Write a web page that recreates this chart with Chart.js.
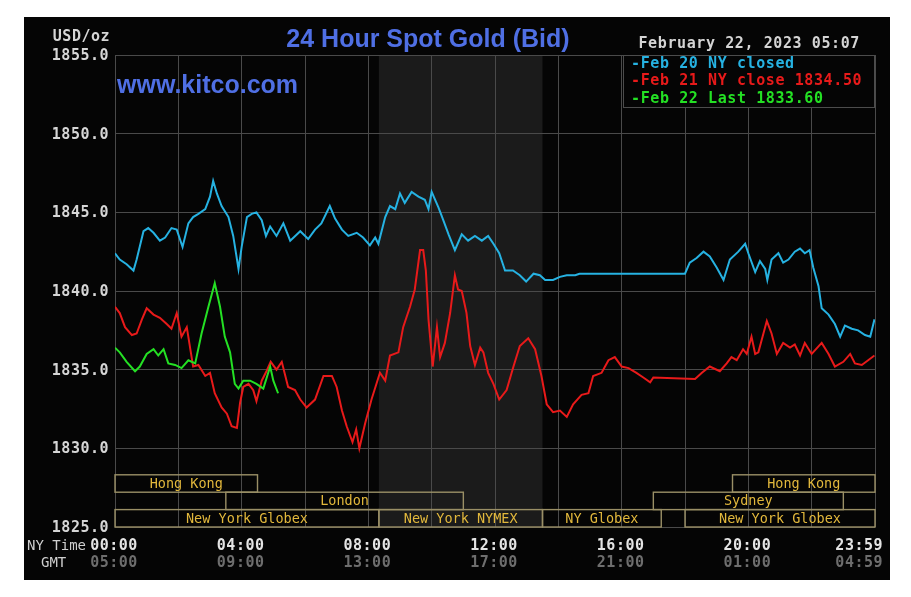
<!DOCTYPE html>
<html>
<head>
<meta charset="utf-8">
<title>24 Hour Spot Gold (Bid)</title>
<script src="https://cdn.jsdelivr.net/npm/chart.js@4/dist/chart.umd.min.js"></script>
<style>
  html, body { margin: 0; padding: 0; background: #fff; }
  #wrap { width: 911px; height: 597px; }
</style>
</head>
<body>
<div id="wrap"><canvas id="gold" width="911" height="597"></canvas></div>
<script>
// minutes after 00:00 NY time, price in USD/oz
const feb20Times = [0, 9, 22, 35, 41, 54, 63, 73, 85, 95, 107, 117, 128, 139, 148, 158, 171, 180, 186, 193,
  202, 215, 224, 234, 240, 250, 259, 268, 278, 286, 294, 306, 319, 332, 351, 366, 379, 391, 407, 417,
  430, 442, 458, 470, 483, 493, 499, 512, 521, 531, 540, 549, 562, 575, 587, 594, 600, 613, 622, 632,
  644, 657, 669, 682, 695, 707, 717, 728, 739, 754, 767, 779, 793, 805, 815, 830, 843, 856, 872, 880,
  1080, 1089, 1102, 1115, 1127, 1140, 1153, 1165, 1181, 1194, 1200, 1213, 1222, 1232, 1236, 1244, 1257, 1266, 1276, 1288,
  1298, 1307, 1316, 1323, 1333, 1339, 1352, 1364, 1374, 1383, 1396, 1408, 1421, 1431, 1439];
const feb20Prices = [1842.4, 1842.0, 1841.7, 1841.3, 1842.0, 1843.8, 1844.0, 1843.7, 1843.2, 1843.4, 1844.0, 1843.9, 1842.8, 1844.3, 1844.7, 1844.9, 1845.2, 1846.0, 1847.0, 1846.2,
  1845.4, 1844.7, 1843.5, 1841.4, 1842.8, 1844.7, 1844.9, 1845.0, 1844.5, 1843.5, 1844.1, 1843.5, 1844.3, 1843.2, 1843.8, 1843.3, 1843.9, 1844.3, 1845.4, 1844.6,
  1843.9, 1843.5, 1843.7, 1843.4, 1842.9, 1843.4, 1843.0, 1844.7, 1845.4, 1845.2, 1846.2, 1845.6, 1846.3, 1846.0, 1845.8, 1845.2, 1846.3, 1845.3, 1844.5, 1843.6,
  1842.6, 1843.6, 1843.2, 1843.5, 1843.2, 1843.5, 1843.0, 1842.4, 1841.3, 1841.3, 1841.0, 1840.6, 1841.1, 1841.0, 1840.7, 1840.7, 1840.9, 1841.0, 1841.0, 1841.1,
  1841.1, 1841.8, 1842.1, 1842.5, 1842.2, 1841.5, 1840.7, 1842.0, 1842.5, 1843.0, 1842.4, 1841.2, 1841.9, 1841.4, 1840.7, 1842.0, 1842.4, 1841.8, 1842.0, 1842.5,
  1842.7, 1842.4, 1842.6, 1841.5, 1840.3, 1838.9, 1838.5, 1837.9, 1837.1, 1837.8, 1837.6, 1837.5, 1837.2, 1837.1, 1838.2];

const feb21Times = [0, 9, 19, 32, 41, 51, 60, 73, 85, 98, 107, 117, 126, 136, 148, 158, 171, 180, 189, 202,
  212, 221, 231, 237, 243, 253, 262, 268, 278, 287, 295, 306, 316, 328, 341, 351, 363, 379, 395, 411,
  420, 430, 439, 450, 457, 463, 474, 486, 502, 512, 521, 537, 546, 559, 568, 578, 584, 589, 594, 602,
  610, 616, 625, 635, 644, 650, 657, 666, 673, 682, 692, 698, 707, 717, 728, 742, 755, 767, 783, 796,
  808, 818, 830, 843, 856, 868, 884, 897, 906, 922, 935, 947, 960, 973, 988, 1001, 1014, 1020, 1099, 1112,
  1127, 1146, 1159, 1168, 1178, 1190, 1197, 1206, 1213, 1219, 1235, 1244, 1254, 1266, 1279, 1288, 1298, 1307, 1320, 1339,
  1352, 1364, 1380, 1393, 1402, 1415, 1427, 1439];
const feb21Prices = [1839.0, 1838.6, 1837.7, 1837.2, 1837.3, 1838.2, 1838.9, 1838.5, 1838.3, 1837.9, 1837.6, 1838.6, 1837.1, 1837.7, 1835.2, 1835.3, 1834.6, 1834.8, 1833.5, 1832.6,
  1832.2, 1831.4, 1831.3, 1832.9, 1833.9, 1834.1, 1833.7, 1833.0, 1834.3, 1834.9, 1835.5, 1835.0, 1835.5, 1833.9, 1833.7, 1833.1, 1832.6, 1833.1, 1834.6, 1834.6,
  1833.9, 1832.4, 1831.4, 1830.4, 1831.2, 1830.0, 1831.6, 1833.1, 1834.8, 1834.3, 1835.9, 1836.1, 1837.7, 1839.0, 1840.1, 1842.6, 1842.6, 1841.3, 1838.2, 1835.2,
  1837.7, 1835.8, 1836.7, 1838.6, 1841.0, 1840.1, 1840.0, 1838.6, 1836.5, 1835.3, 1836.4, 1836.1, 1834.8, 1834.1, 1833.1, 1833.7, 1835.2, 1836.5, 1837.0, 1836.3,
  1834.6, 1832.8, 1832.3, 1832.4, 1832.0, 1832.8, 1833.4, 1833.5, 1834.6, 1834.8, 1835.6, 1835.8, 1835.2, 1835.1, 1834.8, 1834.5, 1834.2, 1834.5, 1834.4, 1834.8,
  1835.2, 1834.9, 1835.4, 1835.8, 1835.6, 1836.3, 1836.0, 1837.1, 1836.0, 1836.1, 1838.1, 1837.3, 1836.0, 1836.7, 1836.4, 1836.6, 1835.9, 1836.7, 1836.0, 1836.7,
  1836.0, 1835.2, 1835.5, 1836.0, 1835.4, 1835.3, 1835.6, 1835.9];

const feb22Times = [0, 9, 22, 38, 47, 60, 73, 82, 92, 101, 114, 126, 139, 152, 164, 177, 189, 199, 208, 218,
  227, 234, 243, 256, 268, 281, 294, 300, 309];
const feb22Prices = [1836.4, 1836.1, 1835.5, 1834.9, 1835.2, 1836.0, 1836.3, 1835.9, 1836.3, 1835.4, 1835.3, 1835.1, 1835.6, 1835.4, 1837.3, 1839.0, 1840.5, 1839.0, 1837.1, 1836.1,
  1834.1, 1833.8, 1834.3, 1834.3, 1834.1, 1833.8, 1835.2, 1834.3, 1833.5];

const seriesLabels = ['-Feb 20 NY closed', '-Feb 21 NY close 1834.50', '-Feb 22 Last 1833.60'];
const seriesColors = ['#26b2e2', '#e81a1a', '#24e024'];

const tickMinutes = [0, 240, 480, 720, 960, 1200, 1440];
const nyTimeLabels = ['00:00', '04:00', '08:00', '12:00', '16:00', '20:00', '23:59'];
const gmtLabels = ['05:00', '09:00', '13:00', '17:00', '21:00', '01:00', '04:59'];

const sessionNames = ['Hong Kong', 'Hong Kong', 'London', 'Sydney', 'New York Globex', 'New York NYMEX', 'NY Globex', 'New York Globex'];
const sessionStart = [0, 1170, 210, 1020, 0, 500, 810, 1080];
const sessionEnd = [270, 1440, 660, 1380, 500, 810, 1035, 1440];
const sessionRow = [0, 0, 1, 1, 2, 2, 2, 2];

const nymexStart = 500;
const nymexEnd = 810;

const MONO = '"DejaVu Sans Mono", "Liberation Mono", monospace';
const SANS = '"Liberation Sans", Arial, sans-serif';

function points(times, prices) {
  return times.map((t, i) => ({ x: t, y: prices[i] }));
}

const kitcoFrame = {
  id: 'kitcoFrame',
  beforeDraw(chart) {
    const { ctx, chartArea: a, scales: { x } } = chart;
    ctx.save();
    ctx.fillStyle = '#ffffff';
    ctx.fillRect(0, 0, chart.width, chart.height);
    ctx.fillStyle = '#050505';
    ctx.fillRect(24, 17, 866, 563);
    const x0 = x.getPixelForValue(nymexStart);
    const x1 = x.getPixelForValue(nymexEnd);
    ctx.fillStyle = '#1b1b1b';
    ctx.fillRect(x0, a.top, x1 - x0, a.bottom - a.top);
    ctx.restore();
  },
  afterDraw(chart) {
    const { ctx, chartArea: a, scales: { x, y } } = chart;
    ctx.save();

    // sessions
    const rowH = 17.4;
    ctx.lineWidth = 1.4;
    ctx.strokeStyle = '#9a8f66';
    ctx.font = '13.5px ' + MONO;
    ctx.textAlign = 'center';
    ctx.textBaseline = 'middle';
    sessionNames.forEach((name, i) => {
      const left = x.getPixelForValue(sessionStart[i]);
      const right = x.getPixelForValue(sessionEnd[i]);
      const top = a.bottom - (3 - sessionRow[i]) * rowH;
      ctx.strokeRect(left, top, right - left, rowH);
      ctx.fillStyle = '#e2b83c';
      ctx.fillText(name, (left + right) / 2, top + rowH / 2 + 1);
    });

    // y labels
    ctx.font = 'bold 15px ' + MONO;
    ctx.letterSpacing = '0.5px';
    ctx.fillStyle = '#d6d6d6';
    ctx.textAlign = 'right';
    y.ticks.forEach(t => {
      ctx.fillText(t.value.toFixed(1), a.left - 6, y.getPixelForValue(t.value) + 1);
    });
    ctx.fillText('USD/oz', a.left - 5, a.top - 18);

    // x labels
    tickMinutes.forEach((m, i) => {
      const px = x.getPixelForValue(m);
      const last = i === tickMinutes.length - 1;
      ctx.textAlign = last ? 'right' : 'center';
      const tx = last ? px + 8 : px - 1;
      ctx.fillStyle = '#e4e4e4';
      ctx.fillText(nyTimeLabels[i], tx, a.bottom + 19);
      ctx.fillStyle = '#6e6e6e';
      ctx.fillText(gmtLabels[i], tx, a.bottom + 36);
    });
    ctx.letterSpacing = '0px';
    ctx.font = '14px ' + MONO;
    ctx.fillStyle = '#cfcfcf';
    ctx.textAlign = 'left';
    ctx.fillText('NY Time', 27, a.bottom + 19);
    ctx.fillText('GMT', 41, a.bottom + 36);

    // titles
    ctx.font = 'bold 25px ' + SANS;
    ctx.fillStyle = '#4f6fe4';
    ctx.textAlign = 'center';
    ctx.textBaseline = 'alphabetic';
    ctx.fillText('24 Hour Spot Gold (Bid)', 428, 47);
    ctx.textAlign = 'left';
    ctx.fillText('www.kitco.com', 117, 93);

    ctx.textBaseline = 'middle';
    ctx.font = 'bold 15px ' + MONO;
    ctx.letterSpacing = '0.6px';
    ctx.fillStyle = '#d4d4d4';
    ctx.textAlign = 'right';
    ctx.fillText('February 22, 2023 05:07', 860, 44);

    // legend box
    const lx = a.right - 252;
    ctx.fillStyle = '#050505';
    ctx.fillRect(lx, a.top, a.right - lx, 52);
    ctx.strokeStyle = '#4c4c4c';
    ctx.lineWidth = 1;
    ctx.strokeRect(lx + 0.5, a.top + 0.5, a.right - lx - 1, 52);
    ctx.textAlign = 'left';
    seriesLabels.forEach((lab, i) => {
      ctx.fillStyle = seriesColors[i];
      ctx.fillText(lab, lx + 8, a.top + 9 + i * 17.5);
    });
    ctx.restore();
  }
};

const gridStyle = { color: '#4a4a4a', lineWidth: 1, drawTicks: false };

new Chart(document.getElementById('gold'), {
  type: 'line',
  data: {
    datasets: [
      { label: seriesLabels[0], data: points(feb20Times, feb20Prices), borderColor: seriesColors[0], order: 3 },
      { label: seriesLabels[1], data: points(feb21Times, feb21Prices), borderColor: seriesColors[1], order: 2 },
      { label: seriesLabels[2], data: points(feb22Times, feb22Prices), borderColor: seriesColors[2], order: 1 }
    ]
  },
  options: {
    responsive: false,
    animation: false,
    devicePixelRatio: 1,
    layout: { padding: { left: 115, top: 55, right: 36, bottom: 70 } },
    elements: {
      point: { radius: 0 },
      line: { borderWidth: 2, tension: 0, fill: false }
    },
    plugins: {
      legend: { display: false },
      tooltip: { enabled: false }
    },
    scales: {
      x: {
        type: 'linear', min: 0, max: 1440,
        ticks: { display: false, stepSize: 120 },
        grid: gridStyle,
        border: { display: false }
      },
      y: {
        min: 1825, max: 1855,
        ticks: { display: false, stepSize: 5 },
        grid: gridStyle,
        border: { display: false }
      }
    }
  },
  plugins: [kitcoFrame]
});
</script>
</body>
</html>
